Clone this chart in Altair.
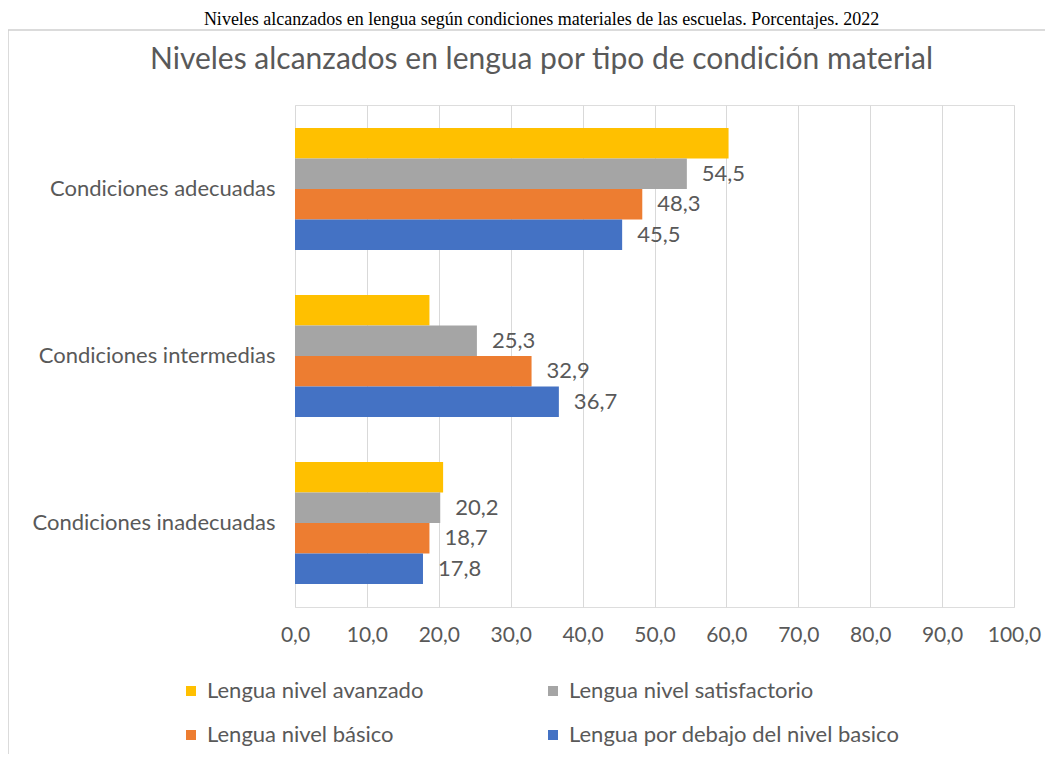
import altair as alt
import pandas as pd

categories = ["Condiciones adecuadas", "Condiciones intermedias", "Condiciones inadecuadas"]
series = [
    "Lengua nivel avanzado",
    "Lengua nivel satisfactorio",
    "Lengua nivel básico",
    "Lengua por debajo del nivel basico",
]
avanzado = [60.3, 18.7, 20.6]
satisfactorio = [54.5, 25.3, 20.2]
basico = [48.3, 32.9, 18.7]
debajo = [45.5, 36.7, 17.8]
show_labels = [False, True, True, True]
colors = ["#FFC000", "#A5A5A5", "#ED7D31", "#4472C4"]
x_ticks = [0, 10, 20, 30, 40, 50, 60, 70, 80, 90, 100]

header = "Niveles alcanzados en lengua según condiciones materiales de las escuelas. Porcentajes. 2022"
chart_title = "Niveles alcanzados en lengua por tipo de condición material"

rows = []
for s, vals, show in zip(series, [avanzado, satisfactorio, basico, debajo], show_labels):
    for c, v in zip(categories, vals):
        rows.append({
            "categoria": c,
            "serie": s,
            "valor": v,
            "etiqueta": f"{v:.1f}".replace(".", ",") if show else "",
        })
df = pd.DataFrame(rows)

FONT = "Lato"
GRAY = "#595959"
FS = 22

y_enc = alt.Y("categoria:N", sort=categories, title=None,
              scale=alt.Scale(paddingInner=0.27, paddingOuter=0.138),
              axis=alt.Axis(domain=False, ticks=False, labelPadding=20, labelLimit=400,
                            labelFontSize=FS, labelColor=GRAY, labelFont=FONT))
yoff = alt.YOffset("serie:N", sort=series, scale=alt.Scale(paddingInner=0, paddingOuter=0))

base = alt.Chart(df)

bars = base.mark_bar().encode(
    x=alt.X("valor:Q", title=None,
            scale=alt.Scale(domain=[0, 100], nice=False),
            axis=alt.Axis(values=x_ticks, domain=False, ticks=False, labelPadding=17,
                          labelFlush=False,
                          labelFontSize=21, labelColor=GRAY, labelFont=FONT,
                          labelExpr="replace(format(datum.value, '.1f'), '.', ',')",
                          grid=True, gridColor="#D9D9D9", gridWidth=1)),
    y=y_enc,
    yOffset=yoff,
    color=alt.Color("serie:N", sort=series,
                    scale=alt.Scale(domain=series, range=colors),
                    legend=alt.Legend(title=None, orient="none", legendX=-115, legendY=575,
                                      direction="horizontal",
                                      columns=2, columnPadding=118, rowPadding=22,
                                      symbolType="square", symbolSize=100,
                                      symbolStrokeWidth=0, labelOffset=5,
                                      labelFontSize=FS, labelColor=GRAY, labelFont=FONT,
                                      labelLimit=400)),
)

labels = base.mark_text(align="left", baseline="middle", dx=15, fontSize=FS,
                        color=GRAY, font=FONT).encode(
    x="valor:Q",
    y=alt.Y("categoria:N", sort=categories),
    yOffset=yoff,
    text="etiqueta:N",
)

frame = alt.Chart(alt.Data(values=[{}])).mark_rect(
    fill="white", fillOpacity=0, stroke="#D0D0D0", strokeWidth=1.5
).encode(x=alt.value(-287), x2=alt.value(800), y=alt.value(-75), y2=alt.value(700))

chart = alt.layer(frame, bars, labels).properties(
    width=719,
    height=502,
    autosize=alt.AutoSizeParams(type="none"),
    padding={"left": 287, "top": 97, "right": 31, "bottom": 147},
    title=alt.TitleParams(
        text=header,
        subtitle=chart_title,
        anchor="middle",
        dx=-113,
        offset=-46,
        font="Liberation Serif",
        fontSize=18,
        fontWeight="normal",
        color="black",
        subtitleFont=FONT,
        subtitleFontSize=30,
        subtitleColor=GRAY,
        subtitlePadding=16,
    ),
).configure_view(stroke=None).configure(background="white")

chart.save("out.html", embed_options={"renderer": "svg", "actions": False})
